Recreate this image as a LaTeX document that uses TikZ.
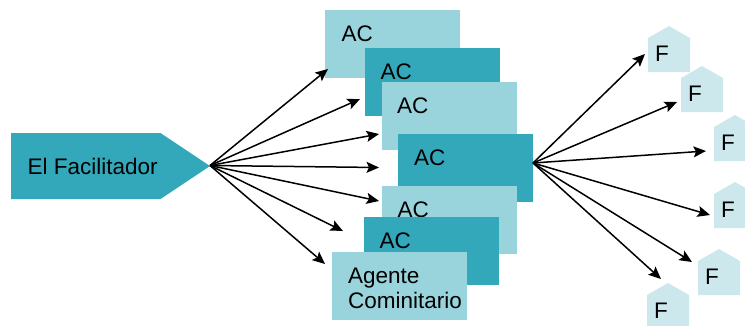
\documentclass[tikz,border=0pt]{standalone}
\usepackage{fontspec}
\setmainfont{Liberation Sans}
\usetikzlibrary{arrows.meta}
\definecolor{tealdark}{HTML}{33A8BA}
\definecolor{teallight}{HTML}{99D3DC}
\definecolor{tealpale}{HTML}{CCE8ED}
\tikzset{
  labeltext/.style={font=\fontsize{22.5}{25}\selectfont, text=black, inner sep=0pt},
  acbox/.style={labeltext, anchor=north west, minimum width=135pt, minimum height=68pt,
    text width=135pt, align=left, text height=31pt, text depth=37pt},
  acdark/.style={acbox, fill=tealdark},
  aclight/.style={acbox, fill=teallight},
  flow/.style={-{Stealth[length=12.5pt,width=11pt,inset=2.5pt]}, line width=1.5pt, black},
  housetext/.style={labeltext, anchor=base west},
}
% name, left x, apex y
\newcommand{\familyhouse}[3]{%
  \fill[tealpale] (#2,#3+46) -- (#2,#3+12) -- (#2+21,#3) -- (#2+42,#3+12) -- (#2+42,#3+46) -- cycle;
  \node[housetext] (#1) at (#2+7,#3+35) {F};
}
\begin{document}
\begin{tikzpicture}[x=1pt,y=-1pt]
\useasboundingbox (0,0) rectangle (745,325);
\clip (0,0) rectangle (745,325);

% facilitator
\fill[tealdark] (11,133) -- (160.5,133) -- (210,166) -- (160.5,199) -- (11,199) -- cycle;
\node[labeltext, anchor=base west] (fac) at (27.5,174) {El Facilitador};
\coordinate (facout) at (210,165.5);

% community agents
\node[aclight] (ac1) at (325,10) {\hspace*{16.5pt}AC};
\node[acdark]  (ac2) at (365,48) {\hspace*{15.5pt}AC};
\node[aclight] (ac3) at (382,82) {\hspace*{15pt}AC};
\node[acdark]  (ac4) at (398,134) {\hspace*{16pt}AC};
\node[aclight] (ac5) at (382,186) {\hspace*{15.5pt}AC};
\node[acdark]  (ac6) at (364,217) {\hspace*{15.5pt}AC};
\node[aclight] (ac7) at (332,252) {\hspace*{16pt}Agente\\\hspace*{16pt}Cominitario};
\coordinate (acout) at (533,163);

% families
\familyhouse{f1}{648}{26}
\familyhouse{f2}{681}{66}
\familyhouse{f3}{714}{115}
\familyhouse{f4}{714}{182}
\familyhouse{f5}{698}{249}
\familyhouse{f6}{647}{283}

% arrow ends
\coordinate (a1) at (328,69);
\coordinate (a2) at (360,99);
\coordinate (a3) at (379,134);
\coordinate (a4) at (379,167.5);
\coordinate (a5) at (379,201);
\coordinate (a6) at (343,231);
\coordinate (a7) at (325,264);
\coordinate (b1) at (645,54);
\coordinate (b2) at (677,102);
\coordinate (b3) at (706,151);
\coordinate (b4) at (710,215);
\coordinate (b5) at (692,262);
\coordinate (b6) at (661,279);

\foreach \e in {a1,a2,a3,a4,a5,a6,a7} \draw[flow] (facout) -- (\e);
\foreach \e in {b1,b2,b3,b4,b5,b6} \draw[flow] (acout) -- (\e);
\end{tikzpicture}
\end{document}
